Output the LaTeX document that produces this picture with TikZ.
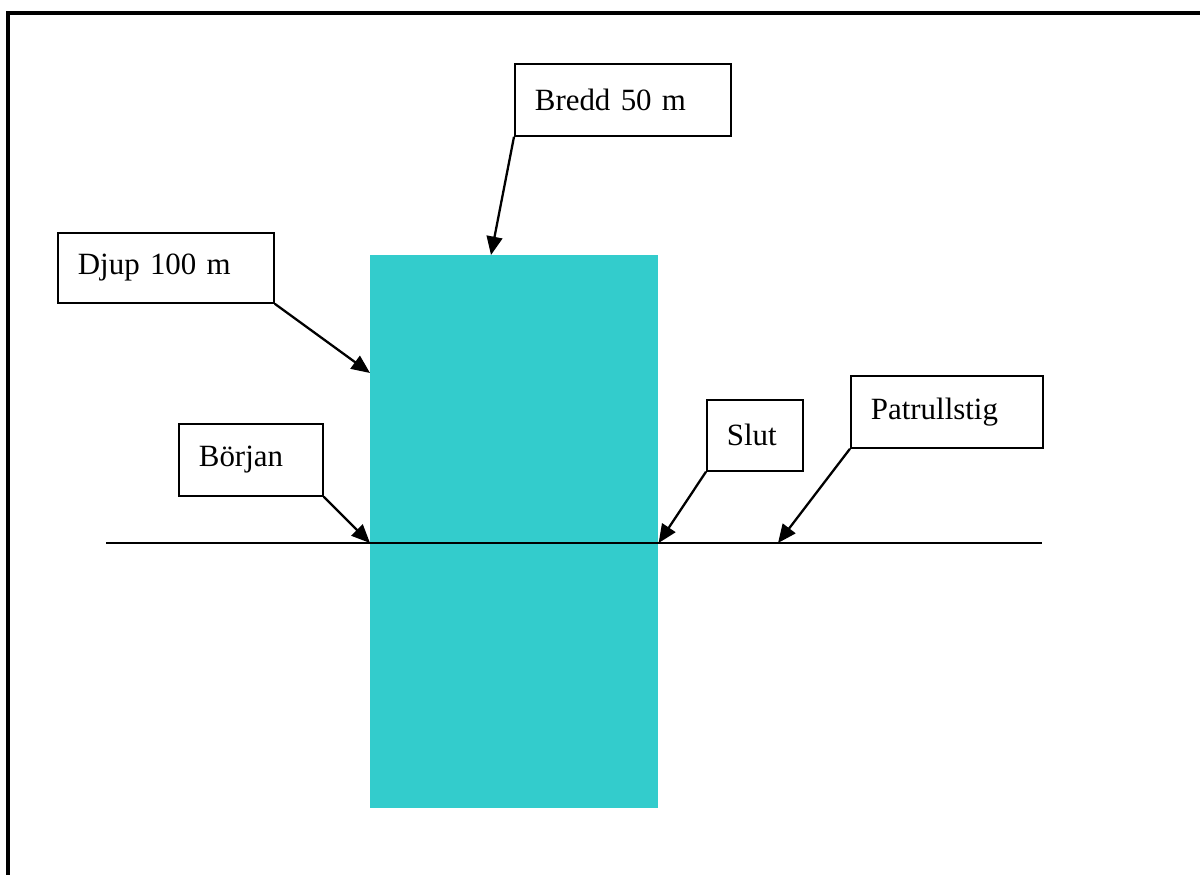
\documentclass[tikz,border=0pt]{standalone}
\usepackage{fontspec}
\setmainfont{Liberation Serif}
\usepackage{tikz}
\usetikzlibrary{arrows.meta}
\tikzset{>=Stealth}
\definecolor{pondcyan}{HTML}{33CCCC}
\tikzset{
    labelbox/.style={draw, line width=1pt, anchor=north west, inner xsep=0.4cm,
        inner ysep=0pt, align=left, font=\fontsize{17.6}{21}\selectfont},
    pointer/.style={line width=1.3pt, -{Triangle[length=10.5pt,width=9pt]}}
}

\begin{document}
\begin{tikzpicture}[x=0.02cm, y=-0.02cm]
    \useasboundingbox (0,0) rectangle (1200,875);
    \draw[line width=2.2pt] (8,875) -- (8,13) -- (1200,13);
    \node[fill=pondcyan, minimum width=5.76cm, minimum height=11.06cm, anchor=north west, inner sep=0pt] at (370,255) (pond) {};
    \coordinate (pathW) at (106,543);
    \coordinate (pathE) at (1042,543);
    \draw[line width=1.2pt] (pathW) -- (pathE);
    \coordinate (widthtip) at (491,255);
    \coordinate (depthtip) at (370,373);
    \coordinate (pathtip) at (778,543);
    \node[labelbox, minimum width=4.32cm, minimum height=1.44cm, text width=3.52cm] at (514,63) (bredd) {Bredd 50 m\\[3pt]};
    \node[labelbox, minimum width=4.32cm, minimum height=1.4cm, text width=3.52cm] at (57,232) (djup) {Djup 100 m\\[3pt]};
    \node[labelbox, minimum width=2.88cm, minimum height=1.44cm, text width=2.08cm, inner xsep=0.36cm] at (178,423) (borjan) {Början\\[3pt]};
    \node[labelbox, minimum width=1.92cm, minimum height=1.42cm, text width=1.12cm] at (706,399) (slut) {Slut\\[3pt]};
    \node[labelbox, minimum width=3.84cm, minimum height=1.44cm, text width=3.04cm] at (850,375) (patrull) {Patrullstig\\[3pt]};
    \path[pointer]
    (bredd.south west) edge (widthtip)
    (djup.south east) edge (depthtip)
    (borjan.south east) edge (pond.west |- pathW)
    (slut.south west) edge (pond.east |- pathW)
    (patrull.south west) edge (pathtip)
    ;
\end{tikzpicture}
\end{document}
